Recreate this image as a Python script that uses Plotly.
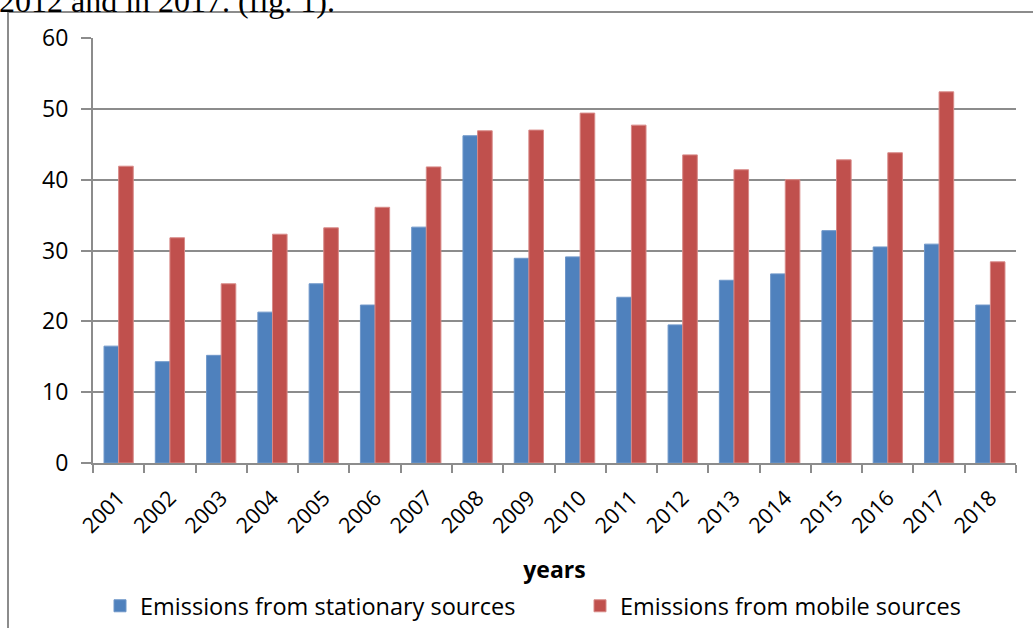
import plotly.graph_objects as go

years = [str(y) for y in range(2001, 2019)]
stationary = [16.5, 14.3, 15.2, 21.3, 25.3, 22.3, 33.3, 46.2, 28.9, 29.1, 23.4, 19.5, 25.8, 26.7, 32.8, 30.5, 30.9, 22.3]
mobile = [41.9, 31.8, 25.3, 32.3, 33.2, 36.1, 41.8, 46.9, 47.0, 49.4, 47.7, 43.5, 41.4, 40.0, 42.8, 43.8, 52.4, 28.4]
series_names = ["Emissions from stationary sources", "Emissions from mobile sources"]
y_ticks = [0, 10, 20, 30, 40, 50, 60]

FONT = "Open Sans"
W, H = 1033, 628
ML, MR, MT, MB = 93, 17, 38, 165
PW, PH = W - ML - MR, H - MT - MB

def px_x(x):
    return (x - ML) / PW

def px_y(y):
    return (H - MB - y) / PH

fig = go.Figure()
fig.add_trace(go.Bar(x=years, y=stationary, name=series_names[0], legend="legend",
                     marker=dict(color="#4F81BD", line=dict(color="#6f97c9", width=1))))
fig.add_trace(go.Bar(x=years, y=mobile, name=series_names[1], legend="legend2",
                     marker=dict(color="#C0504D", line=dict(color="#d88a88", width=1))))

leg_common = dict(orientation="h", xanchor="left", yanchor="middle",
                  font=dict(size=23.5), itemclick=False, bgcolor="rgba(0,0,0,0)")

fig.update_layout(
    width=W, height=H,
    margin=dict(l=ML, r=MR, t=MT, b=MB, autoexpand=False),
    paper_bgcolor="white", plot_bgcolor="white",
    barmode="group", bargap=0.43, bargroupgap=0,
    font=dict(family=FONT, size=21, color="black"),
    showlegend=True,
    legend=dict(x=px_x(100), y=px_y(606), **leg_common),
    legend2=dict(x=px_x(580), y=px_y(606), **leg_common),
    xaxis=dict(type="category", showline=True, linecolor="#8c8c8c", linewidth=2,
               ticks="outside", ticklen=8, tickcolor="#8c8c8c", tickwidth=2,
               tickson="boundaries", tickangle=-45, tickfont=dict(size=21.5),
               ticklabelstandoff=12,
               title=dict(text="<b>years</b>", font=dict(size=23), standoff=24),
               showgrid=False),
    yaxis=dict(range=[0, 60], tickvals=y_ticks, showline=True, linecolor="#8c8c8c", linewidth=2,
               ticks="outside", ticklen=10, tickcolor="#8c8c8c", tickwidth=2,
               ticklabelstandoff=8,
               showgrid=True, gridcolor="#8c8c8c", gridwidth=2, zeroline=False,
               tickfont=dict(size=23)),
    shapes=[dict(type="rect", xref="paper", yref="paper",
                 x0=px_x(8), x1=px_x(1045), y0=px_y(12), y1=px_y(645),
                 line=dict(color="#8c8c8c", width=2), layer="below")],
    annotations=[dict(text="2012 and in 2017. (fig. 1).", xref="paper", yref="paper",
                      x=px_x(-3), xanchor="left", y=px_y(21), yanchor="bottom",
                      showarrow=False,
                      font=dict(family="Liberation Serif, Times New Roman, serif", size=32))],
)

fig.write_html("out.html", config={"displayModeBar": False},
               post_script="document.body.style.margin='0px';")
